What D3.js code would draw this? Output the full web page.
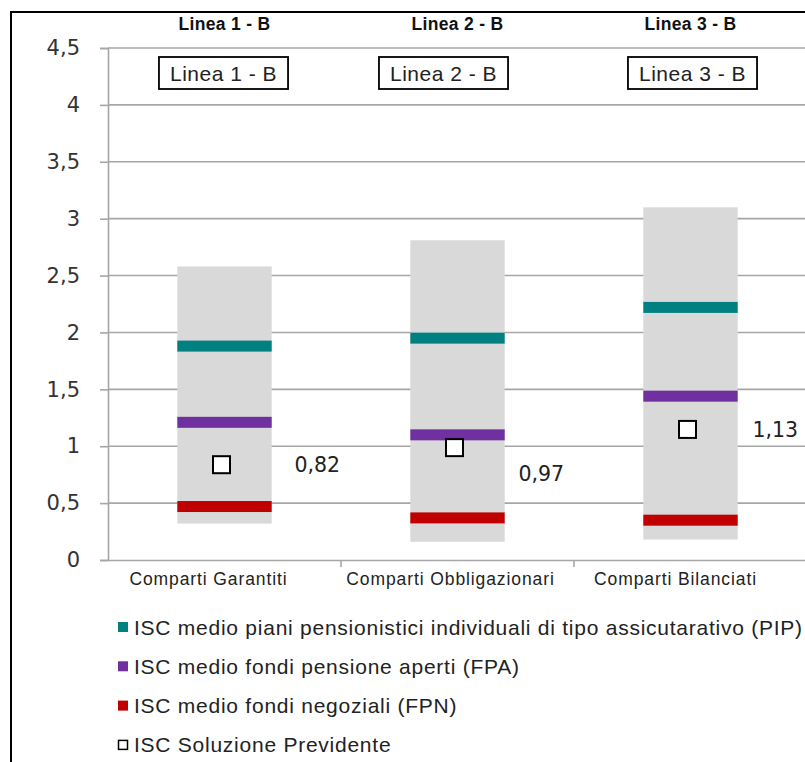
<!DOCTYPE html>
<html>
<head>
<meta charset="utf-8">
<script src="https://cdn.jsdelivr.net/npm/d3@7.8.5/dist/d3.min.js"></script>
<style>
  html, body { margin: 0; padding: 0; background: #fff; }
  svg { display: block; }
</style>
</head>
<body>
<div id="chart"></div>
<script>
// data
const categories = ["Comparti Garantiti", "Comparti Obbligazionari", "Comparti Bilanciati"]
const lineHeaders = ["Linea 1 - B", "Linea 2 - B", "Linea 3 - B"]
const rangeMin = [0.32, 0.16, 0.18]
const rangeMax = [2.58, 2.81, 3.10]
const pipValues = [1.88, 1.95, 2.22]
const fpaValues = [1.21, 1.10, 1.44]
const fpnValues = [0.47, 0.37, 0.35]
const previdenteValues = [0.82, 0.97, 1.13]
const yTicks = [0, 0.5, 1, 1.5, 2, 2.5, 3, 3.5, 4, 4.5]
const legendLabels = [
  "ISC medio piani pensionistici individuali di tipo assicutarativo (PIP)",
  "ISC medio fondi pensione aperti (FPA)",
  "ISC medio fondi negoziali (FPN)",
  "ISC Soluzione Previdente"
]

// layout
const width = 805, height = 762
const margin = {top: 48, left: 108, bottom: 202, right: -2}
const colors = {pip: "#008080", fpa: "#7030a0", fpn: "#c00000", range: "#d9d9d9", grid: "#a6a6a6"}
const lineThickness = 11
const markerSize = 17
// manual nudges from the original (Excel hand-placed text boxes / labels)
const labelNudge = [{dx: 70, dy: 0}, {dx: 61, dy: 26}, {dx: 62, dy: 0}]
const boxNudge = [-1, -14, 2]
const catLabelNudge = [-16, -7, -15]

const fmt = v => String(v).replace(".", ",")

const svg = d3.select("#chart").append("svg")
  .attr("width", width).attr("height", height)

const x = d3.scaleBand()
  .domain(categories)
  .range([margin.left, width - margin.right])
  .paddingInner(0).paddingOuter(0)

const y = d3.scaleLinear()
  .domain([0, 4.5])
  .range([height - margin.bottom, margin.top])

const barW = x.bandwidth() * 0.405

// outer frame
svg.append("path")
  .attr("d", `M11,${height} L11,12 L${width},12`)
  .attr("fill", "none").attr("stroke", "#000").attr("stroke-width", 2)

// gridlines
svg.append("g")
  .selectAll("line")
  .data(yTicks.filter(d => d > 0))
  .join("line")
    .attr("x1", margin.left).attr("x2", width)
    .attr("y1", d => y(d)).attr("y2", d => y(d))
    .attr("stroke", colors.grid).attr("stroke-width", 1.6)

// y axis
const yAxis = svg.append("g")
  .attr("transform", `translate(${margin.left},0)`)
  .call(d3.axisLeft(y).tickValues(yTicks).tickSize(8).tickPadding(20).tickFormat(fmt))
yAxis.select(".domain").attr("stroke", colors.grid).attr("stroke-width", 1.6)
yAxis.selectAll(".tick line").attr("stroke", colors.grid).attr("stroke-width", 1.6)
yAxis.selectAll(".tick text")
  .attr("font-family", "DejaVu Sans, Verdana, sans-serif")
  .attr("font-size", 21).attr("fill", "#333")

// x axis
const xAxis = svg.append("g")
  .attr("transform", `translate(0,${y(0)})`)
  .call(d3.axisBottom(x).tickSize(0).tickFormat(""))
xAxis.select(".domain").attr("stroke", colors.grid).attr("stroke-width", 1.6)
xAxis.selectAll(".tick").remove()
// boundary ticks between categories
xAxis.selectAll("line.sep")
  .data(categories.slice(1))
  .join("line")
    .attr("class", "sep")
    .attr("x1", d => x(d)).attr("x2", d => x(d))
    .attr("y1", 0).attr("y2", 7)
    .attr("stroke", colors.grid).attr("stroke-width", 1.6)
xAxis.selectAll("text.cat")
  .data(categories)
  .join("text")
    .attr("class", "cat")
    .attr("x", (d, i) => x(d) + x.bandwidth() / 2 + catLabelNudge[i])
    .attr("y", 25)
    .attr("text-anchor", "middle")
    .attr("font-family", "Liberation Sans, Arial, sans-serif")
    .attr("font-size", 17.5).attr("letter-spacing", 0.9)
    .attr("fill", "#222")
    .text(d => d)

const cx = d => x(d) + x.bandwidth() / 2

// grey range bars
svg.append("g")
  .selectAll("rect")
  .data(categories)
  .join("rect")
    .attr("x", d => cx(d) - barW / 2)
    .attr("width", barW)
    .attr("y", (d, i) => y(rangeMax[i]))
    .attr("height", (d, i) => y(rangeMin[i]) - y(rangeMax[i]))
    .attr("fill", colors.range)

// average lines
for (const [vals, color] of [[pipValues, colors.pip], [fpaValues, colors.fpa], [fpnValues, colors.fpn]]) {
  svg.append("g")
    .selectAll("rect")
    .data(categories)
    .join("rect")
      .attr("x", d => cx(d) - barW / 2)
      .attr("width", barW)
      .attr("y", (d, i) => y(vals[i]) - lineThickness / 2)
      .attr("height", lineThickness)
      .attr("fill", color)
}

// previdente markers
svg.append("g")
  .selectAll("rect")
  .data(categories)
  .join("rect")
    .attr("x", d => cx(d) - 3 - markerSize / 2)
    .attr("y", (d, i) => y(previdenteValues[i]) - 2 - markerSize / 2)
    .attr("width", markerSize).attr("height", markerSize)
    .attr("fill", "#fff").attr("stroke", "#000").attr("stroke-width", 2)

svg.append("g")
  .selectAll("text")
  .data(categories)
  .join("text")
    .attr("x", (d, i) => cx(d) + labelNudge[i].dx)
    .attr("y", (d, i) => y(previdenteValues[i]) - 2 + labelNudge[i].dy)
    .attr("dy", "0.36em")
    .attr("font-family", "DejaVu Sans, Verdana, sans-serif")
    .attr("font-size", 20.5).attr("fill", "#222")
    .text((d, i) => fmt(previdenteValues[i]))

// header labels
svg.append("g")
  .selectAll("text")
  .data(categories)
  .join("text")
    .attr("x", d => cx(d))
    .attr("y", 30)
    .attr("text-anchor", "middle")
    .attr("font-family", "Liberation Sans, Arial, sans-serif")
    .attr("font-weight", "bold")
    .attr("font-size", 17.5).attr("letter-spacing", 0.3)
    .attr("fill", "#111")
    .text((d, i) => lineHeaders[i])

// boxed labels
const boxes = svg.append("g")
  .selectAll("g")
  .data(categories)
  .join("g")
    .attr("transform", (d, i) => `translate(${cx(d) + boxNudge[i]},73)`)
boxes.append("text")
  .attr("text-anchor", "middle")
  .attr("dy", "0.36em")
  .attr("font-family", "Liberation Sans, Arial, sans-serif")
  .attr("font-size", 21).attr("letter-spacing", 0.5)
  .attr("fill", "#222")
  .text((d, i) => lineHeaders[i])
boxes.each(function() {
  const g = d3.select(this)
  const bb = g.select("text").node().getBBox()
  g.insert("rect", "text")
    .attr("x", bb.x - 11).attr("y", -16)
    .attr("width", bb.width + 22).attr("height", 32)
    .attr("fill", "#fff").attr("stroke", "#000").attr("stroke-width", 1.8)
})

// legend
const legendColors = [colors.pip, colors.fpa, colors.fpn, "#fff"]
const legend = svg.append("g")
  .selectAll("g")
  .data(legendLabels)
  .join("g")
    .attr("transform", (d, i) => `translate(118,${627 + i * 39.3})`)
legend.append("rect")
  .attr("x", (d, i) => i === 3 ? 0.5 : 0)
  .attr("y", (d, i) => i === 3 ? -4.5 : -5)
  .attr("width", (d, i) => i === 3 ? 9 : 10)
  .attr("height", (d, i) => i === 3 ? 9 : 10)
  .attr("fill", (d, i) => legendColors[i])
  .attr("stroke", (d, i) => i === 3 ? "#000" : "none")
  .attr("stroke-width", 1.5)
legend.append("text")
  .attr("x", 16)
  .attr("dy", "0.36em")
  .attr("font-family", "Liberation Sans, Arial, sans-serif")
  .attr("font-size", 21).attr("letter-spacing", 0.75)
  .attr("fill", "#222")
  .text(d => d)
</script>
</body>
</html>
